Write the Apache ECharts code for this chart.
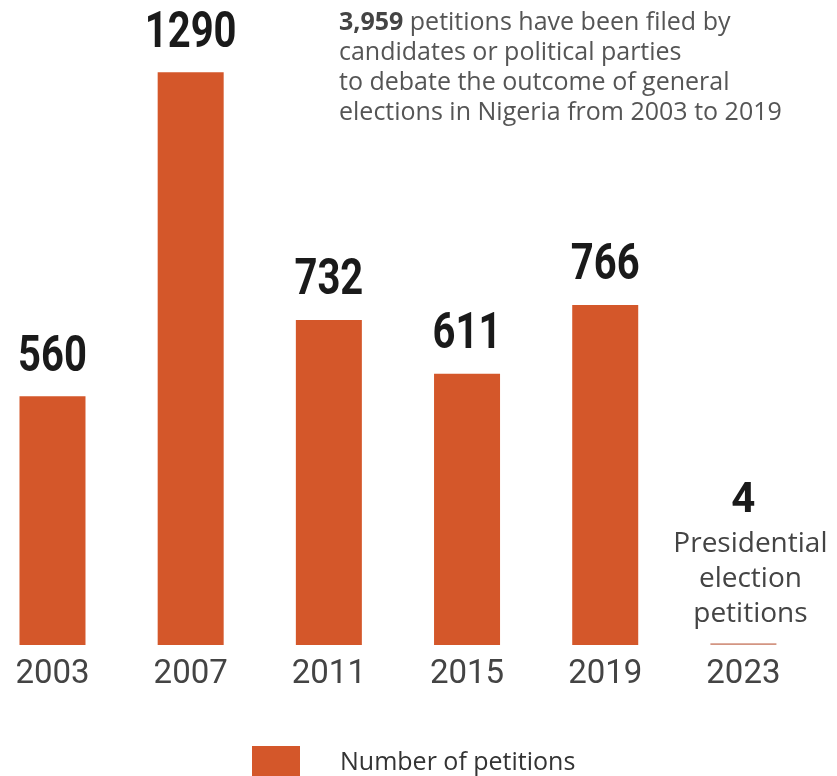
<!DOCTYPE html>
<html>
<head>
<meta charset="utf-8">
<script src="https://cdn.jsdelivr.net/npm/echarts@6/dist/echarts.min.js"></script>
<style>
  html, body { margin: 0; padding: 0; background: #fff; }
  #chart { width: 837px; height: 776px; }
</style>
</head>
<body>
<div id="chart"></div>
<script>
// data
var years = ['2003', '2007', '2011', '2015', '2019', '2023'];
var petitions = [560, 1290, 732, 611, 766, 4];
var seriesName = 'Number of petitions';
var totalPetitions = '3,959';
var noteLines = [
    'petitions have been filed by',
    'candidates or political parties',
    'to debate the outcome of general',
    'elections in Nigeria from 2003 to 2019'
];
var presidentialNote = ['Presidential', 'election', 'petitions'];

var barColor = '#d4572a';
var last = petitions.length - 1;
var chart = echarts.init(document.getElementById('chart'));

//2023 只有一根细线,标签单独写
var barData = petitions.map(function (v, i) {
    if (i !== last) return v;
    return {
        value: v,
        itemStyle: { color: '#d39582' },
        label: {
            show: true,
            position: 'top',
            distance: 12,
            offset: [7, 0],
            formatter: '{v|{c}}\n' + presidentialNote.map(function (s) { return '{t|' + s + '}'; }).join('\n'),
            rich: {
                v: { fontFamily: 'Roboto', fontWeight: 'bold', fontSize: 42, lineHeight: 50, color: '#1a1a1a', padding: [0, 14, 0, 0] },
                t: { fontFamily: 'Open Sans', fontWeight: 'normal', fontSize: 28, lineHeight: 35, color: '#444' }
            }
        }
    };
});

//数值标签(窄体),用 custom 系列按坐标轴定位
var valueLabels = petitions.map(function (v, i) { return [i, v]; }).filter(function (d) { return d[0] !== last; });

var option = {
    animation: false,
    backgroundColor: '#fff',
    grid: { left: -16.6, right: 24.5, top: 23.4, bottom: 131, outerBoundsMode: 'none' },
    xAxis: {
        type: 'category',
        data: years,
        axisLine: { show: false },
        axisTick: { show: false },
        axisLabel: {
            margin: 15,
            fontFamily: 'Roboto',
            fontSize: 33,
            lineHeight: 30,
            color: '#444'
        }
    },
    yAxis: { type: 'value', min: 0, max: 1400, show: false },
    legend: {
        data: [seriesName],
        left: 247,
        top: 741,
        icon: 'rect',
        itemWidth: 48,
        itemHeight: 34,
        textStyle: { fontFamily: 'Open Sans', fontSize: 25, color: '#333', padding: [0, 0, 0, 35] }
    },
    graphic: [{
        type: 'text',
        left: 339,
        top: 8,
        style: {
            text: '{b|' + totalPetitions + '} ' + noteLines.join('\n'),
            fontFamily: 'Open Sans',
            fontSize: 25,
            lineHeight: 30,
            fill: '#555',
            rich: {
                b: { fontFamily: 'Open Sans', fontWeight: 'bold', fontSize: 25, lineHeight: 30, fill: '#444' }
            }
        }
    }],
    series: [{
        name: seriesName,
        type: 'bar',
        data: barData,
        barWidth: 66,
        itemStyle: { color: barColor },
        label: { show: false }
    }, {
        type: 'custom',
        data: valueLabels,
        silent: true,
        z: 5,
        renderItem: function (params, api) {
            var p = api.coord([api.value(0), api.value(1)]);
            return {
                type: 'text',
                x: p[0],
                y: p[1] - 20,
                scaleX: 0.8,
                style: {
                    text: String(api.value(1)),
                    fontFamily: 'Roboto',
                    fontWeight: 'bold',
                    fontSize: 50,
                    lineHeight: 36,
                    fill: '#1a1a1a',
                    align: 'center',
                    verticalAlign: 'bottom'
                }
            };
        }
    }]
};
chart.setOption(option);
</script>
</body>
</html>
